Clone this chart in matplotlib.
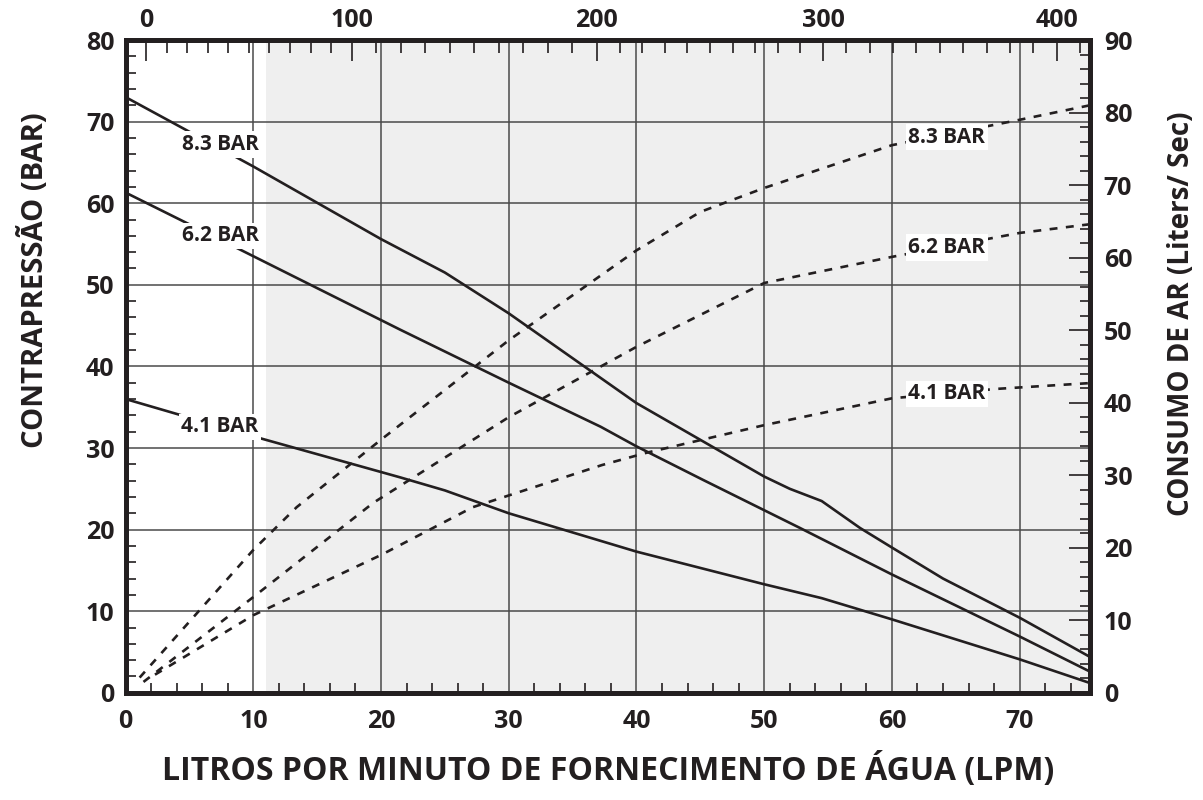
import numpy as np
import matplotlib
matplotlib.use("Agg")
import matplotlib.pyplot as plt
from matplotlib.ticker import MultipleLocator, FixedLocator

plt.rcParams['font.family'] = ['Open Sans', 'DejaVu Sans']
plt.rcParams['font.weight'] = 'bold'

INK = '#231f20'

# contrapressão (BAR) x vazão de água (LPM) - linhas cheias, eixo esquerdo
p83_x = [0, 10, 20, 25, 30, 35, 40, 45, 50, 52, 54.5, 57.5, 60, 64, 70, 75.5]
p83_y = [73, 64.5, 55.6, 51.5, 46.5, 41, 35.5, 31, 26.5, 25, 23.5, 20.2, 17.8, 14, 9.2, 4.4]
p62_x = [0, 8.6, 21.5, 30, 37.2, 40, 45.2, 52.8, 60, 70, 75.5]
p62_y = [61.3, 54.6, 44.5, 38, 32.6, 30.2, 26.1, 20.2, 14.5, 6.9, 2.6]
p41_x = [0, 10.3, 21.5, 25, 30, 40, 50, 54.5, 60, 70, 75.5]
p41_y = [36, 31.3, 26.4, 24.8, 22, 17.3, 13.3, 11.6, 9, 4.1, 1.2]

# consumo de ar (L/s) - linhas tracejadas, eixo direito
a83_x = [1.1, 5.8, 10, 13.4, 20, 30, 40, 45, 50, 60, 70, 75.5]
a83_y = [2.1, 11.4, 19.7, 25.6, 34.9, 48.6, 61, 66.3, 69.6, 75.5, 79, 81]
a62_x = [1.4, 10, 19.4, 30, 40, 50, 60, 70, 75.5]
a62_y = [1.5, 13.2, 26.2, 38, 47.7, 56.5, 60.1, 63.4, 64.6]
a41_x = [2.3, 10, 20, 27.2, 37.3, 40.8, 50, 60, 68.2, 75.5]
a41_y = [2.5, 10.7, 19, 25.6, 31.4, 33.1, 36.9, 40.6, 41.9, 42.7]

labels = ['8.3 BAR', '6.2 BAR', '4.1 BAR']

# escala superior (posições em LPM onde caem os rótulos 0..400)
top_vals = [0, 100, 200, 300, 400]
top_pos = [1.6, 17.7, 36.9, 54.6, 72.9]

fig = plt.figure(figsize=(12.03, 8), dpi=100)
ax = fig.add_axes([0.1044, 0.134, 0.8016, 0.816])
ax.set_xlim(0, 75.5)
ax.set_ylim(0, 80)

ax.axvspan(11, 75.5, color='#efefef', lw=0, zorder=0)
ax.set_axisbelow(True)
ax.grid(True, which='major', color='#4a4a4a', lw=1.1)

for xs, ys in [(p83_x, p83_y), (p62_x, p62_y), (p41_x, p41_y)]:
    ax.plot(xs, ys, color=INK, lw=1.9, zorder=3)

ax.xaxis.set_major_locator(MultipleLocator(10))
ax.xaxis.set_minor_locator(MultipleLocator(2))
ax.yaxis.set_major_locator(MultipleLocator(10))
ax.yaxis.set_minor_locator(MultipleLocator(2))
ax.tick_params(which='both', direction='in', labelsize=18, colors=INK)
ax.tick_params(which='major', length=0, pad=12)
ax.tick_params(which='minor', length=7, width=1.2)
ax.tick_params(axis='y', which='major', pad=8)

for lab, y in zip(labels, [67.2, 56.0, 32.6]):
    ax.text(7.4, y, lab, fontsize=15, fontweight='bold', color=INK,
            ha='center', va='center', zorder=4,
            bbox=dict(facecolor='white', edgecolor='none', pad=2.0))

for s in ax.spines.values():
    s.set_linewidth(3.3)
    s.set_color(INK)

ax.set_xlabel('LITROS POR MINUTO DE FORNECIMENTO DE ÁGUA (LPM)', fontsize=23,
              fontweight='bold', color=INK)
ax.xaxis.set_label_coords(0.5, -0.092)
ax.set_ylabel('CONTRAPRESSÃO (BAR)', fontsize=21, fontweight='bold', color=INK)
ax.yaxis.set_label_coords(-0.078, 0.632)

# eixo direito: consumo de ar
ax_r = ax.twinx()
ax_r.set_ylim(0, 90)
for xs, ys in [(a83_x, a83_y), (a62_x, a62_y), (a41_x, a41_y)]:
    ax_r.plot(xs, ys, color=INK, lw=1.9, ls=(0, (3, 3.2)), zorder=3)
ax_r.yaxis.set_major_locator(MultipleLocator(10))
ax_r.yaxis.set_minor_locator(MultipleLocator(2))
ax_r.tick_params(which='both', direction='in', labelsize=18, colors=INK)
ax_r.tick_params(which='major', length=15, width=1.2, pad=10)
ax_r.tick_params(which='minor', length=7, width=1.2)
for lab, y in zip(labels, [76.6, 61.4, 41.2]):
    ax_r.text(64.3, y, lab, fontsize=15, fontweight='bold', color=INK,
              ha='center', va='center', zorder=4,
              bbox=dict(facecolor='white', edgecolor='none', pad=2.0))
ax_r.set_ylabel('CONSUMO DE AR (Liters/ Sec)', fontsize=20, fontweight='bold',
                color=INK)
ax_r.yaxis.set_label_coords(1.08, 0.58)
for s in ax_r.spines.values():
    s.set_linewidth(3.3)
    s.set_color(INK)

# eixo superior
ax_t = ax.twiny()
ax_t.set_xlim(ax.get_xlim())
ax_t.xaxis.set_major_locator(FixedLocator(top_pos))
ax_t.set_xticklabels([str(v) for v in top_vals])
top_minor = np.interp(np.arange(10, 420, 10), top_vals, top_pos,
                      right=np.nan)
slope = (top_pos[-1] - top_pos[-2]) / 100.0
top_minor = np.where(np.isnan(top_minor),
                     top_pos[-1] + (np.arange(10, 420, 10) - 400) * slope,
                     top_minor)
ax_t.xaxis.set_minor_locator(FixedLocator(top_minor[top_minor < 75.5]))
ax_t.tick_params(which='both', direction='in', labelsize=18, colors=INK)
ax_t.tick_params(which='major', length=15, width=1.2, pad=5)
ax_t.tick_params(which='minor', length=9, width=1.2)
for s in ax_t.spines.values():
    s.set_linewidth(3.3)
    s.set_color(INK)

for a in (ax, ax_r, ax_t):
    for t in a.get_xticklabels() + a.get_yticklabels():
        t.set_fontweight('bold')

fig.savefig('out.png', dpi=100, facecolor='white')
